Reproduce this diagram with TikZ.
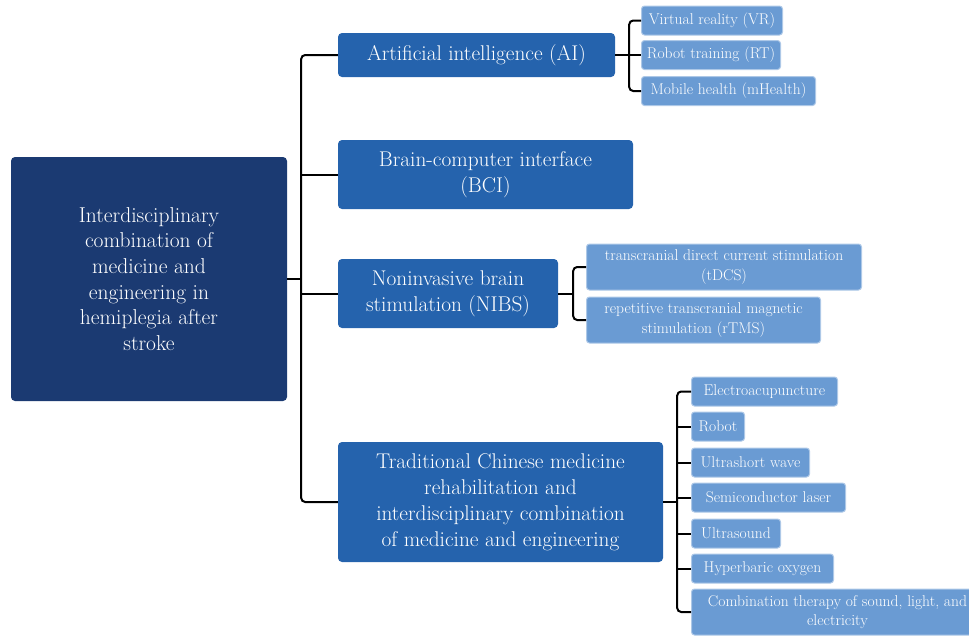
\documentclass[tikz,border=0pt]{standalone}

\definecolor{rootblue}{HTML}{1B3A72}
\definecolor{branchblue}{HTML}{2563AD}
\definecolor{leafblue}{HTML}{6A9BD3}

\tikzset{
	rootbox/.style = {fill = rootblue, text = white, rounded corners = 4, align = center, inner sep = 0, font = \fontsize{21.5}{25.7}\selectfont},
	branchbox/.style = {fill = branchblue, text = white, rounded corners = 4, align = center, inner sep = 0, font = \fontsize{21.3}{26}\selectfont},
	leafbox/.style = {fill = leafblue, draw = leafblue!55!white, line width = 1, text = white, rounded corners = 3, align = center, inner sep = 0, minimum height = 29, anchor = west, font = \fontsize{15.6}{19.5}\selectfont},
	link/.style = {draw = black, line width = 2, rounded corners = 4}
}

\begin{document}
\begin{tikzpicture}[x = 1pt, y = -1pt]

	\useasboundingbox (0, 0) rectangle (969, 635);

	% Root and main branches
	
	\node [rootbox, minimum width = 276, minimum height = 244] (root) at (149, 279) {Interdisciplinary\\combination of\\medicine and\\engineering in\\hemiplegia after\\stroke};
	
	\node [branchbox, minimum width = 277, minimum height = 44] (ai) at (476.5, 55) {Artificial intelligence (AI)};
	\node [branchbox, minimum width = 295, minimum height = 69] (bci) at (485.5, 174.5) {Brain-computer interface\\(BCI)};
	\node [branchbox, minimum width = 220, minimum height = 69] (nibs) at (448, 293.5) {Noninvasive brain\\stimulation (NIBS)};
	\node [branchbox, minimum width = 325, minimum height = 120] (tcm) at (500.5, 502) {Traditional Chinese medicine\\rehabilitation and\\interdisciplinary combination\\of medicine and engineering};
	
	% Leaves
	
	\node [leafbox, minimum width = 141] (vr) at (641, 20.5) {Virtual reality (VR)};
	\node [leafbox, minimum width = 139] (rt) at (641, 55) {Robot training (RT)};
	\node [leafbox, minimum width = 174] (mh) at (641, 91) {Mobile health (mHealth)};
	
	\node [leafbox, minimum width = 275, minimum height = 46] (tdcs) at (586, 267) {transcranial direct current stimulation\\(tDCS)};
	\node [leafbox, minimum width = 234, minimum height = 46] (rtms) at (586, 320) {repetitive transcranial magnetic\\stimulation (rTMS)};
	
	\node [leafbox, minimum width = 146] (t1) at (691, 391.5) {Electroacupuncture};
	\node [leafbox, minimum width = 53] (t2) at (691, 426.5) {Robot};
	\node [leafbox, minimum width = 118] (t3) at (691, 462.5) {Ultrashort wave};
	\node [leafbox, minimum width = 154] (t4) at (691, 497.5) {Semiconductor laser};
	\node [leafbox, minimum width = 89] (t5) at (691, 533.5) {Ultrasound};
	\node [leafbox, minimum width = 142] (t6) at (691, 568.5) {Hyperbaric oxygen};
	\node [leafbox, minimum width = 292, minimum height = 46] (t7) at (691, 612) {Combination therapy of sound, light, and\\electricity};
	
	% Connectors
	
	\coordinate (rj) at ([xshift = 14pt] root.east);
	\draw [link] (root.east) -- (rj);
	\draw [link] (ai.west) -| (rj) |- (tcm.west);
	\draw [link] (rj |- bci.west) -- (bci.west);
	\draw [link] (rj |- nibs.west) -- (nibs.west);
	
	\coordinate (aj) at ([xshift = 14pt] ai.east);
	\draw [link] (ai.east) -- (aj);
	\draw [link] (vr.west) -| (aj) |- (mh.west);
	\draw [link] (aj) -- (rt.west);
	
	\coordinate (nj) at ([xshift = 15pt] nibs.east);
	\draw [link] (nibs.east) -- (nj);
	\draw [link] (tdcs.west) -| (nj) |- (rtms.west);
	
	\coordinate (tj) at ([xshift = 14pt] tcm.east);
	\draw [link] (tcm.east) -- (tj);
	\draw [link] (t1.west) -| (tj) |- (t7.west);
	\foreach \leaf in {t2, t3, t4, t5, t6}
		\draw [link] (tj |- \leaf.west) -- (\leaf.west);

\end{tikzpicture}
\end{document}
